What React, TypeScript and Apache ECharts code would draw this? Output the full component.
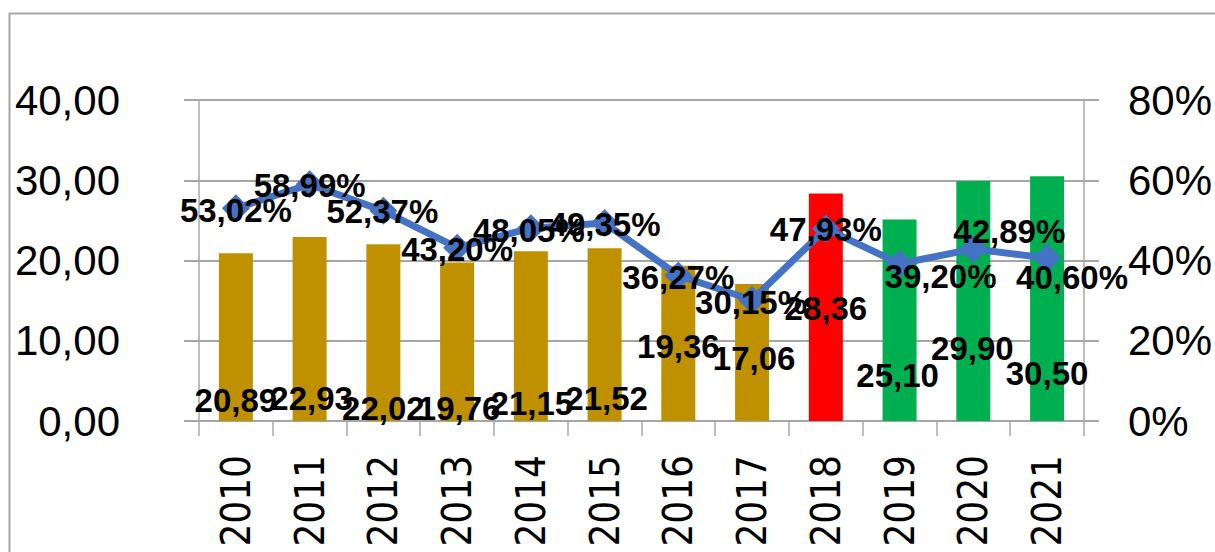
import React, { useEffect, useRef } from "react";
import * as echarts from "echarts";

const years = ["2010", "2011", "2012", "2013", "2014", "2015", "2016", "2017", "2018", "2019", "2020", "2021"];
const values = [20.89, 22.93, 22.02, 19.76, 21.15, 21.52, 19.36, 17.06, 28.36, 25.1, 29.9, 30.5];
const shares = [53.02, 58.99, 52.37, 43.2, 48.05, 49.35, 36.27, 30.15, 47.93, 39.2, 42.89, 40.6];

const GOLD = "#BF9000";
const RED = "#FF0000";
const GREEN = "#00B050";
const barColors = [GOLD, GOLD, GOLD, GOLD, GOLD, GOLD, GOLD, GOLD, RED, GREEN, GREEN, GREEN];

const barLabelOffsets = [
  [0, -6], [2, -8], [0, 2], [2, 2], [1, -3], [2, -8],
  [0, -60], [2, -48], [0, -98], [-2, -31], [-1, -58], [0, -33],
];
const lineLabelOffsets = [
  [0, 2], [0, 1], [-1, 1], [0, 2], [-2, 2], [0, 2],
  [0, 2], [-1, 2], [0, 1], [41, 13], [36, -17], [25, 19],
];

const fmt = (v: number) => v.toFixed(2).replace(".", ",");
const GRAY = "#A6A6A6";
const labelFont = "'Liberation Sans', Arial, sans-serif";

export default function App() {
  const ref = useRef<HTMLDivElement>(null);
  useEffect(() => {
    document.body.style.margin = "0";
    if (!ref.current) return;
    const chart = echarts.init(ref.current, null, { renderer: "svg" });
    chart.setOption({
      animation: false,
      backgroundColor: "#FFFFFF",
      grid: { left: 199, right: 127, top: 100, bottom: 131, containLabel: false },
      graphic: [
        {
          type: "rect",
          shape: { x: 9.5, y: 13.5, width: 1230, height: 580 },
          style: { fill: "none", stroke: GRAY, lineWidth: 2 },
          silent: true,
        },
      ],
      xAxis: {
        type: "category",
        data: years,
        axisLine: { lineStyle: { color: GRAY, width: 2 } },
        axisTick: { show: true, length: 15, lineStyle: { color: GRAY, width: 1.5 } },
        axisLabel: {
          rotate: 90,
          margin: 34,
          fontSize: 40,
          color: "#000",
          fontFamily: "'DejaVu Sans Condensed', 'DejaVu Sans', sans-serif",
        },
      },
      yAxis: [
        {
          type: "value",
          min: 0,
          max: 40,
          interval: 10,
          axisLine: { show: true, lineStyle: { color: GRAY, width: 1.5 } },
          axisTick: { show: true, length: 15, lineStyle: { color: GRAY, width: 2 } },
          splitLine: { show: true, lineStyle: { color: GRAY, width: 2 } },
          axisLabel: {
            margin: 79,
            fontSize: 42,
            color: "#000",
            fontFamily: labelFont,
            formatter: (v: number) => fmt(v),
          },
        },
        {
          type: "value",
          min: 0,
          max: 80,
          interval: 20,
          position: "right",
          axisLine: { show: true, lineStyle: { color: GRAY, width: 1.5 } },
          axisTick: { show: true, length: 15, lineStyle: { color: GRAY, width: 2 } },
          splitLine: { show: false },
          axisLabel: {
            margin: 44,
            fontSize: 42,
            color: "#000",
            fontFamily: labelFont,
            formatter: (v: number) => `${v}%`,
          },
        },
      ],
      series: [
        {
          type: "bar",
          yAxisIndex: 0,
          barWidth: 34,
          data: values.map((v, i) => ({
            value: v,
            itemStyle: { color: barColors[i] },
            label: { offset: barLabelOffsets[i] },
          })),
          label: {
            show: true,
            position: "insideBottom",
            distance: 0,
            fontSize: 33,
            lineHeight: 30,
            fontWeight: "bold",
            color: "#000",
            fontFamily: labelFont,
            formatter: (p: any) => fmt(p.value),
          },
          z: 2,
        },
        {
          type: "line",
          yAxisIndex: 1,
          data: shares.map((v, i) => ({
            value: v,
            label: { offset: lineLabelOffsets[i] },
          })),
          symbol: "diamond",
          symbolSize: 28,
          lineStyle: { color: "#4472C4", width: 7 },
          itemStyle: { color: "#4472C4" },
          label: {
            show: true,
            position: "inside",
            fontSize: 33,
            lineHeight: 30,
            fontWeight: "bold",
            color: "#000",
            fontFamily: labelFont,
            formatter: (p: any) => `${fmt(p.value)}%`,
          },
          z: 3,
        },
      ],
    });
    return () => chart.dispose();
  }, []);
  return <div ref={ref} style={{ width: 1215, height: 552 }} />;
}
